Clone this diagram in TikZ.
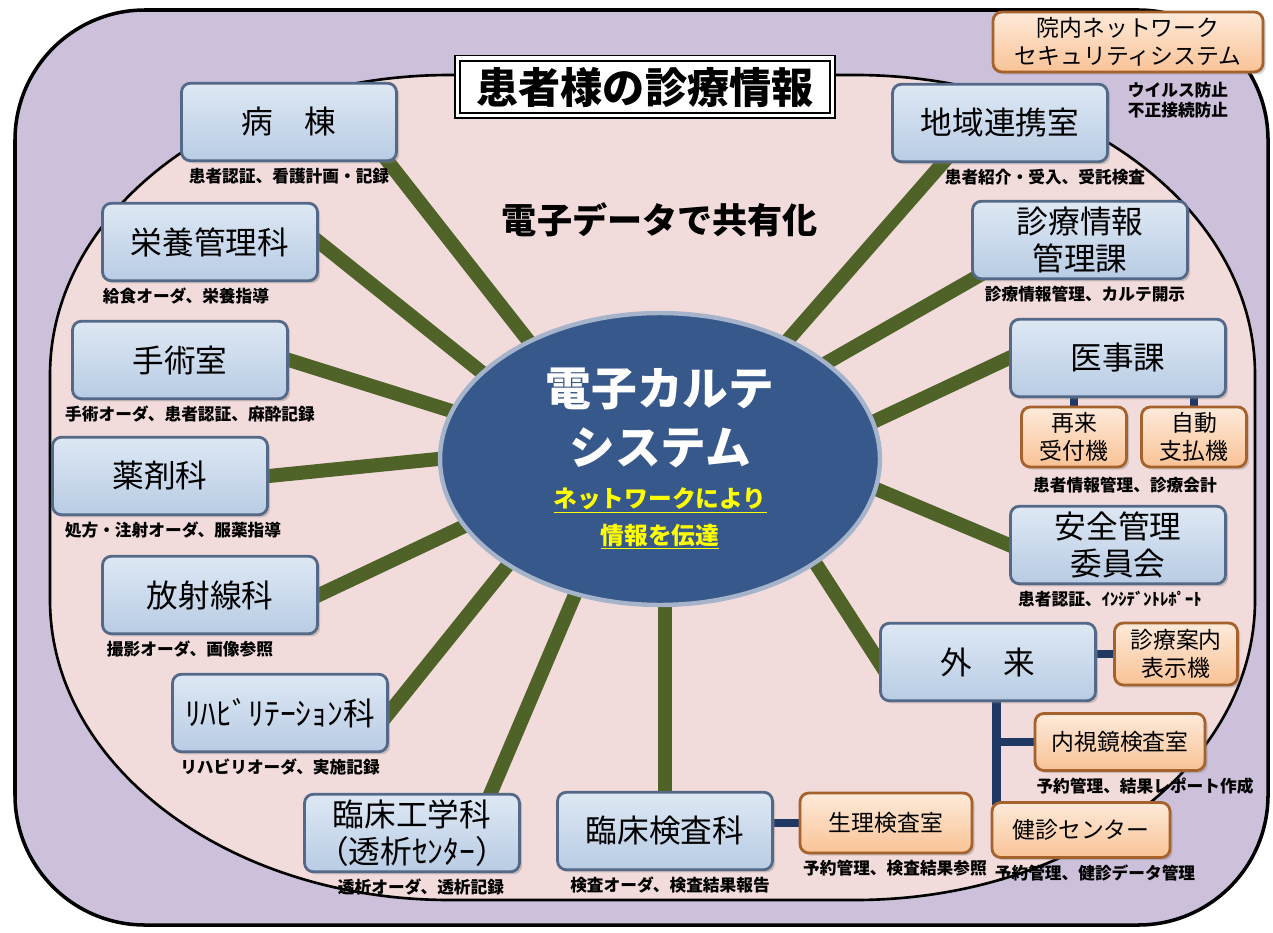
\documentclass[tikz,border=0pt]{standalone}
\usepackage{fontspec}
\setmainfont{Noto Sans CJK JP}
\usepackage{tikz}
\usetikzlibrary{positioning,shapes.geometric,shadows,backgrounds}

\definecolor{outerbg}{RGB}{204,192,218}
\definecolor{innerbg}{RGB}{242,220,219}
\definecolor{spokegreen}{RGB}{79,98,40}
\definecolor{wirenavy}{RGB}{31,56,100}
\definecolor{blueedge}{RGB}{84,105,135}
\definecolor{bluetop}{RGB}{222,232,244}
\definecolor{bluebot}{RGB}{184,204,228}
\definecolor{orangeedge}{RGB}{165,98,45}
\definecolor{orangetop}{RGB}{253,234,218}
\definecolor{orangebot}{RGB}{249,195,150}
\definecolor{ellfill}{RGB}{55,88,138}
\definecolor{elledge}{RGB}{165,180,202}
\definecolor{markyellow}{RGB}{255,255,0}

\newcommand\fsz[2]{\fontsize{#1}{#2}\selectfont}

\pgfdeclarelayer{links}
\pgfsetlayers{background,links,main}

\begin{document}
\begin{tikzpicture}[x=0.02cm, y=-0.02cm,
  dept/.style={rectangle, rounded corners=5pt, draw=blueedge, line width=1.6pt,
    top color=bluetop, bottom color=bluebot, minimum width=4.3cm, minimum height=1.55cm,
    inner sep=2pt, align=center, font=\fsz{18}{21},
    drop shadow={opacity=0.35, shadow xshift=1.5pt, shadow yshift=-1.5pt}},
  unit/.style={dept, draw=orangeedge, top color=orangetop, bottom color=orangebot,
    font=\fsz{13}{16}},
  note/.style={font=\bfseries\fsz{9.5}{11}, inner sep=1pt, align=left},
  spoke/.style={draw=spokegreen, line width=8pt, shorten <=-10pt, shorten >=-10pt},
  wire/.style={draw=wirenavy, line width=5pt, shorten <=-2pt, shorten >=-2pt}]

  \useasboundingbox (0,0) rectangle (1273,932);

  \begin{pgfonlayer}{background}
    \draw[fill=outerbg, line width=2pt, rounded corners=2.6cm] (15,10) rectangle (1268,925);
    \draw[fill=innerbg, line width=1.5pt] (450,75) -- (855,75)
      .. controls (1076,75) and (1255,209) .. (1255,375) -- (1255,600)
      .. controls (1255,766) and (1076,900) .. (855,900) -- (450,900)
      .. controls (229,900) and (50,766) .. (50,600) -- (50,375)
      .. controls (50,209) and (229,75) .. (450,75) -- cycle;
  \end{pgfonlayer}

  \node[ellipse, minimum width=8.8cm, minimum height=5.84cm, fill=ellfill, draw=elledge,
    line width=2.5pt, text=white, align=center, inner sep=0pt] (karte) at (660,459)
    {{\bfseries\fsz{26}{30}電子カルテ}\\[9pt]{\bfseries\fsz{26}{30}システム}\\[10pt]
     {\bfseries\fsz{13.5}{16}\color{markyellow}\underline{ネットワークにより}}\\[5pt]
     {\bfseries\fsz{13.5}{16}\color{markyellow}\underline{情報を伝達}}};

  \node[draw, line width=1pt, double=white, double distance=2pt, fill=white,
    minimum width=7.5cm, minimum height=1.15cm, font=\bfseries\fsz{24}{28},
    drop shadow={opacity=0.4, shadow xshift=2pt, shadow yshift=-2pt}] (title) at (645,87) {患者様の診療情報};
  \node[font=\bfseries\fsz{20}{24}] (shared) at (660,220) {電子データで共有化};

  \node[dept] (byoto) at (289,122) {病　棟};
  \node[dept] (eiyo) at (210,242) {栄養管理科};
  \node[dept] (shujutsu) at (180,360) {手術室};
  \node[dept] (yakuzai) at (160,476) {薬剤科};
  \node[dept] (hoshasen) at (210,595) {放射線科};
  \node[dept] (riha) at (280,713) {ﾘﾊﾋﾞﾘﾃｰｼｮﾝ科};
  \node[dept] (rinko) at (412,833) {臨床工学科\\（透析ｾﾝﾀｰ）};
  \node[dept] (kensa) at (665,831) {臨床検査科};
  \node[dept] (gairai) at (988,662) {外　来};
  \node[dept] (anzen) at (1118,545) {安全管理\\委員会};
  \node[dept] (iji) at (1118,358) {医事課};
  \node[dept] (shinryo) at (1080,240) {診療情報\\管理課};
  \node[dept] (chiiki) at (1000,123) {地域連携室};

  \node[unit, minimum width=3.44cm, minimum height=1.2cm] (seiri) at (886,823) {生理検査室};
  \node[unit, minimum width=3.56cm, minimum height=1.1cm] (kenshin) at (1081,830) {健診センター};
  \node[unit, minimum width=3.4cm, minimum height=1.14cm] (naishi) at (1120,742) {内視鏡検査室};
  \node[unit, minimum width=2.46cm, minimum height=1.24cm] (annai) at (1176,654) {診療案内\\表示機};
  \node[unit, minimum width=2.1cm, minimum height=1.2cm] (sairai) at (1074,437) {再来\\受付機};
  \node[unit, minimum width=2.1cm, minimum height=1.2cm] (jido) at (1194,437) {自動\\支払機};
  \node[unit, minimum width=5.4cm, minimum height=1.2cm] (secure) at (1128,42) {院内ネットワーク\\セキュリティシステム};

  \node[note, below=2pt of byoto] (byotonote) {患者認証、看護計画・記録};
  \node[note, below=2pt of eiyo, xshift=-0.48cm] (eiyonote) {給食オーダ、栄養指導};
  \node[note, below=2pt of shujutsu, xshift=0.2cm] (shujutsunote) {手術オーダ、患者認証、麻酔記録};
  \node[note, below=2pt of yakuzai, xshift=0.26cm] (yakuzainote) {処方・注射オーダ、服薬指導};
  \node[note, below=2pt of hoshasen, xshift=-0.4cm] (hoshasennote) {撮影オーダ、画像参照};
  \node[note, below=2pt of riha] (rihanote) {リハビリオーダ、実施記録};
  \node[note, below=2pt of rinko, xshift=0.18cm] (rinkonote) {透析オーダ、透析記録};
  \node[note, below=2pt of kensa, xshift=0.1cm] (kensanote) {検査オーダ、検査結果報告};
  \node[note, below=2pt of seiri, xshift=0.18cm] (seirinote) {予約管理、検査結果参照};
  \node[note, below=2pt of kenshin, xshift=0.28cm] (kenshinnote) {予約管理、健診データ管理};
  \node[note, below=2pt of naishi, xshift=0.5cm] (naishinote) {予約管理、結果レポート作成};
  \node[note, below=2pt of anzen, xshift=-0.16cm] (anzennote) {患者認証、ｲﾝｼﾃﾞﾝﾄﾚﾎﾟｰﾄ};
  \node[note] (ijinote) at (1125,485) {患者情報管理、診療会計};
  \node[note, below=2pt of shinryo, xshift=0.1cm] (shinryonote) {診療情報管理、カルテ開示};
  \node[note, below=2pt of chiiki, xshift=0.9cm] (chiikinote) {患者紹介・受入、受託検査};
  \node[note, below=4pt of secure, xshift=1cm] (securenote) {ウイルス防止\\不正接続防止};

  \coordinate (trunk) at ([xshift=5pt]gairai.south);

  \begin{pgfonlayer}{links}
    \draw[spoke] (karte.138) -- (byoto.-22);
    \draw[spoke] (karte.154) -- (eiyo.east);
    \draw[spoke] (karte.167) -- (shujutsu.east);
    \draw[spoke] (karte.180) -- (yakuzai.east);
    \draw[spoke] (karte.199) -- (hoshasen.east);
    \draw[spoke] (karte.215) -- (riha.east);
    \draw[spoke] (karte.238) -- (rinko.27);
    \draw[spoke] (kensa.north) -- (kensa.north |- karte.south);
    \draw[spoke] (karte.326) -- (gairai.west);
    \draw[spoke] (karte.352) -- (anzen.west);
    \draw[spoke] (karte.10) -- (iji.west);
    \draw[spoke] (karte.30) -- (shinryo.south west);
    \draw[spoke] (karte.43) -- (chiiki.-145);

    \draw[wire] (kensa.east |- seiri) -- (seiri.west);
    \draw[wire] (gairai.east |- annai) -- (annai.west);
    \draw[wire] (trunk) -- (trunk |- kenshin.north);
    \draw[wire] (naishi.west) -- (naishi.west -| trunk);
    \draw[wire] (sairai.north) -- (sairai.north |- iji.south);
    \draw[wire] (jido.north) -- (jido.north |- iji.south);
  \end{pgfonlayer}
\end{tikzpicture}
\end{document}
